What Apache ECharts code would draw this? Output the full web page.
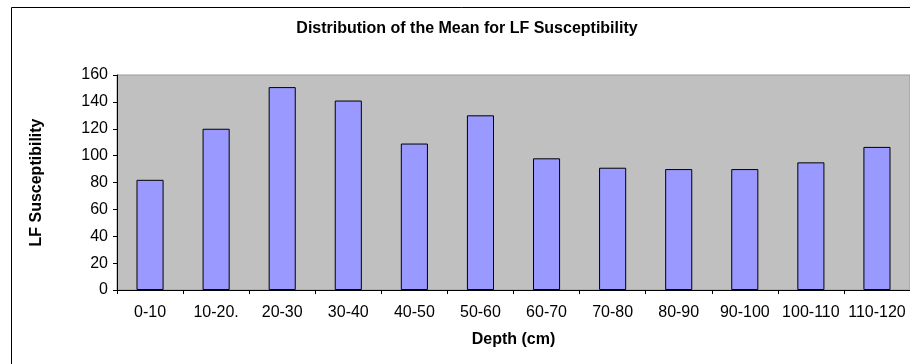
<!DOCTYPE html>
<html>
<head>
<meta charset="utf-8">
<script src="https://cdn.jsdelivr.net/npm/echarts@6/dist/echarts.min.js"></script>
<style>
html,body{margin:0;padding:0;background:#fff;}
#c{width:910px;height:364px;}
</style>
</head>
<body>
<div id="c"></div>
<script>
const categories = ['0-10','10-20.','20-30','30-40','40-50','50-60','60-70','70-80','80-90','90-100','100-110','110-120'];
const values = [82,120,151,141,109,130,98,91,90,90,95,106.5];
const yTicks = {min:0, max:160, interval:20};

const chart = echarts.init(document.getElementById('c'));
const font = 'Liberation Sans, Arial, sans-serif';
chart.setOption({
  animation:false,
  backgroundColor:'#fff',
  title:{
    text:'Distribution of the Mean for LF Susceptibility',
    left:467, top:21, textAlign:'center', padding:0,
    textStyle:{fontFamily:font,fontSize:16,fontWeight:'bold',color:'#000'}
  },
  graphic:[{
    type:'rect', silent:true, z:-1,
    shape:{x:11.5,y:7.5,width:1000,height:500},
    style:{fill:'none',stroke:'#000',lineWidth:1}
  }],
  grid:{left:117,width:796,top:75,bottom:74,show:true,backgroundColor:'#C0C0C0',borderColor:'#999',borderWidth:1},
  xAxis:{
    type:'category', data:categories, boundaryGap:true,
    name:'Depth (cm)', nameLocation:'middle', nameGap:42,
    nameTextStyle:{fontFamily:font,fontSize:16,fontWeight:'bold',color:'#000'},
    axisLine:{show:true,lineStyle:{color:'#000',width:1}},
    axisTick:{show:true,inside:false,length:4,alignWithLabel:false,lineStyle:{color:'#000'}},
    axisLabel:{fontFamily:font,fontSize:16,color:'#000',margin:15,interval:0},
    splitLine:{show:false}
  },
  yAxis:{
    type:'value', min:yTicks.min, max:yTicks.max, interval:yTicks.interval,
    name:'LF Susceptibility', nameLocation:'middle', nameGap:72, nameRotate:90,
    nameTextStyle:{fontFamily:font,fontSize:16,fontWeight:'bold',color:'#000'},
    axisLine:{show:true,lineStyle:{color:'#000',width:1}},
    axisTick:{show:true,inside:false,length:4,lineStyle:{color:'#000'}},
    axisLabel:{fontFamily:font,fontSize:16,color:'#000',margin:9},
    splitLine:{show:false}
  },
  series:[{
    type:'bar', data:values, barWidth:'41%',
    itemStyle:{color:'#9999FF',borderColor:'#000',borderWidth:1}
  }]
});
</script>
</body>
</html>
